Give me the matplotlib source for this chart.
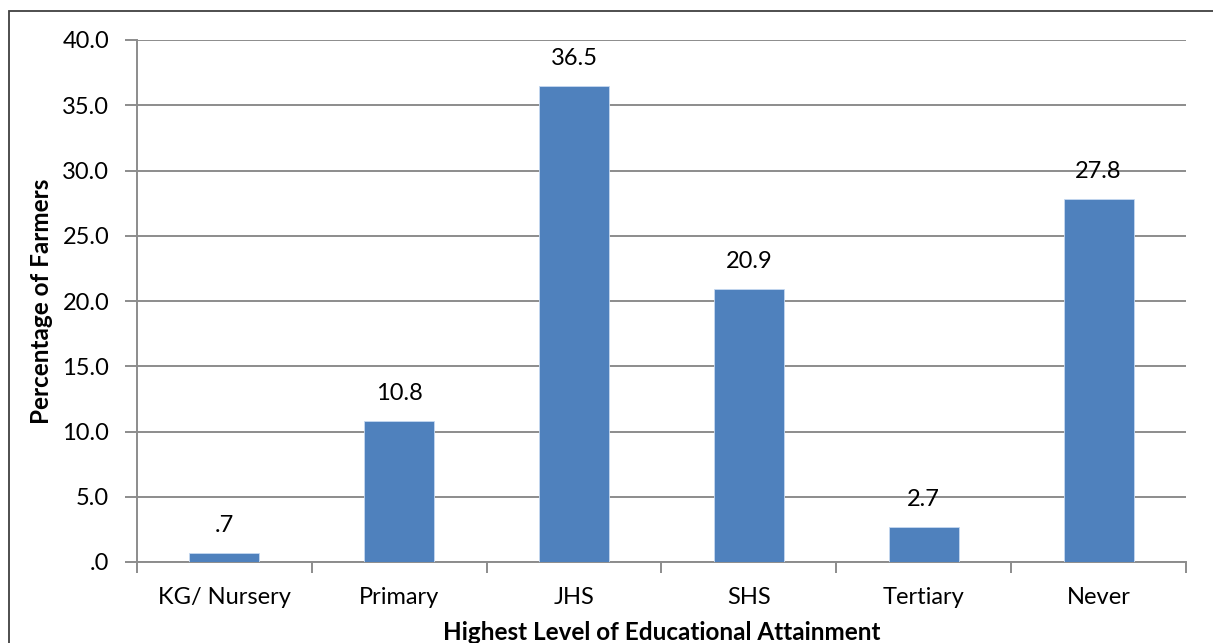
import matplotlib
matplotlib.use("Agg")
import matplotlib.pyplot as plt
from matplotlib.patches import Rectangle

categories = ["KG/ Nursery", "Primary", "JHS", "SHS", "Tertiary", "Never"]
values = [0.7, 10.8, 36.5, 20.9, 2.7, 27.8]
value_labels = [".7", "10.8", "36.5", "20.9", "2.7", "27.8"]
yticks = [0, 5, 10, 15, 20, 25, 30, 35, 40]
ytick_labels = [".0", "5.0", "10.0", "15.0", "20.0", "25.0", "30.0", "35.0", "40.0"]

plt.rcParams['font.family'] = ['Lato', 'DejaVu Sans']

W, H = 1213, 643
fig = plt.figure(figsize=(W / 100, H / 100), dpi=100)

# outer frame of the chart area
fig.add_artist(Rectangle((9 / W, -0.1), 1.2, (H - 11) / H + 0.1,
                         transform=fig.transFigure, fill=False,
                         edgecolor="#404040", linewidth=1.3))

left, right, top, bottom = 137, 1186, 40, 562
ax = fig.add_axes([left / W, 1 - bottom / H, (right - left) / W, (bottom - top) / H])

fs = 17
grid_c = "#8c8c8c"
x = list(range(len(categories)))
ax.bar(x, values, width=0.4, color="#4f81bd", edgecolor="#c6d9f1", linewidth=0.6, zorder=3)

for xi, v, lab in zip(x, values, value_labels):
    ax.text(xi, v + 1.3, lab, ha="center", va="bottom", fontsize=fs, color="black")

ax.set_xlim(-0.5, len(categories) - 0.5)
ax.set_ylim(0, 40)
ax.set_yticks(yticks)
ax.set_yticklabels(ytick_labels, fontsize=fs)
ax.yaxis.grid(True, color=grid_c, linewidth=1.4, zorder=0)
ax.set_axisbelow(True)

ax.set_xticks(x)
ax.set_xticklabels(categories, fontsize=fs)
ax.tick_params(axis="x", length=0, pad=18)
ax.set_xticks([i - 0.5 for i in range(len(categories) + 1)], minor=True)
ax.tick_params(axis="x", which="minor", length=8, width=1.4, color=grid_c)
ax.tick_params(axis="y", length=9, width=1.4, color=grid_c, pad=11)

for s in ["top", "right"]:
    ax.spines[s].set_visible(False)
for s in ["left", "bottom"]:
    ax.spines[s].set_color(grid_c)
    ax.spines[s].set_linewidth(1.4)

ax.set_ylabel("Percentage of Farmers", fontsize=17.5, fontweight="bold")
ax.yaxis.set_label_coords(-(left - 42) / (right - left), 0.5)
ax.yaxis.label.set_verticalalignment("center")
ax.set_xlabel("Highest Level of Educational Attainment", fontsize=17.5, fontweight="bold")
ax.xaxis.set_label_coords(0.5, -(632 - bottom) / (bottom - top))
ax.xaxis.label.set_verticalalignment("center")

fig.savefig("out.png", dpi=100)
